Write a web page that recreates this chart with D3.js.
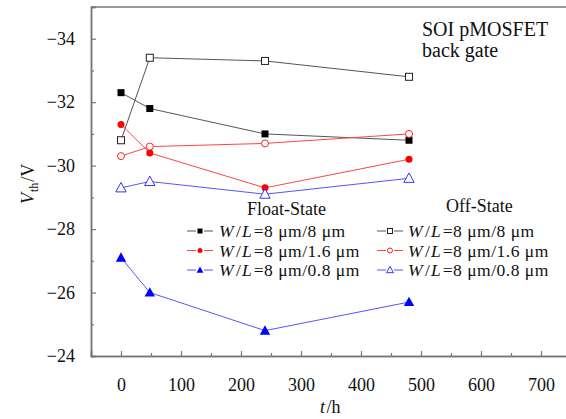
<!DOCTYPE html>
<html><head><meta charset="utf-8">
<script src="https://cdn.jsdelivr.net/npm/d3@7"></script>
<style>
body{margin:0;background:#fff;}
svg{display:block;}
</style></head>
<body><svg id="c" width="566" height="419"></svg>
<script>
const times = [0, 48, 240, 480];
const floatW8 = [-32.3, -31.8, -31.0, -30.8];
const floatW16 = [-31.3, -30.4, -29.3, -30.2];
const floatW08 = [-27.1, -26.0, -24.8, -25.7];
const offW8 = [-30.8, -33.4, -33.3, -32.8];
const offW16 = [-30.3, -30.6, -30.7, -31.0];
const offW08 = [-29.3, -29.5, -29.1, -29.6];
const xTicks = [0, 100, 200, 300, 400, 500, 600, 700];
const yTicks = [-34, -32, -30, -28, -26, -24];
const wlLabels = ["8 μm/8 μm", "8 μm/1.6 μm", "8 μm/0.8 μm"];

const FONT = "Liberation Serif";
const series = [
  {vals:floatW8, color:"#000", line:"#555", shape:"square", filled:true},
  {vals:floatW16, color:"#f00", line:"#f44", shape:"circle", filled:true},
  {vals:floatW08, color:"#00f", line:"#55f", shape:"triangle", filled:true},
  {vals:offW8, color:"#222", line:"#555", shape:"square", filled:false},
  {vals:offW16, color:"#f22", line:"#f44", shape:"circle", filled:false},
  {vals:offW08, color:"#33f", line:"#55f", shape:"triangle", filled:false}
];

const svg = d3.select("#c");
const x = d3.scaleLinear().domain([-50, 750]).range([91, 571]);
const y = d3.scaleLinear().domain([-24, -35]).range([356, 7]);
const axisColor = "#777";

svg.append("line").attr("x1",91).attr("x2",566).attr("y1",y(-35)).attr("y2",y(-35)).attr("stroke",axisColor).attr("stroke-width",1.5);

const gx = svg.append("g").attr("transform",`translate(0,${y(-24)})`);
gx.call(d3.axisBottom(x).tickValues(xTicks).tickSize(-5).tickPadding(22).tickFormat(d3.format("d")));
const gxm = svg.append("g").attr("transform",`translate(0,${y(-24)})`);
gxm.call(d3.axisBottom(x).tickValues(d3.range(50, 750, 100)).tickSize(-3).tickFormat(""));
const gy = svg.append("g").attr("transform",`translate(${x(-50)},0)`);
gy.call(d3.axisLeft(y).tickValues(yTicks).tickSize(-5).tickPadding(16).tickFormat(d => "−" + Math.abs(d)));
const gym = svg.append("g").attr("transform",`translate(${x(-50)},0)`);
gym.call(d3.axisLeft(y).tickValues([-35,-33,-31,-29,-27,-25]).tickSize(-3).tickFormat(""));
[gx,gxm,gy,gym].forEach(g=>{
  g.attr("font-family",FONT).attr("font-size",18);
  g.selectAll(".domain").attr("stroke",axisColor).attr("stroke-width",1.5);
  g.selectAll(".tick line").attr("stroke",axisColor).attr("stroke-width",1.2);
  g.selectAll(".tick text").attr("font-size",18).attr("font-family",FONT).attr("fill","#111");
});
gx.selectAll(".tick text").attr("dy","0.71em").attr("y",22);

function marker(g, s, cx, cy, size){
  const fill = s.filled ? s.color : "#fff";
  if(s.shape==="square"){
    g.append("rect").attr("x",cx-size/2).attr("y",cy-size/2).attr("width",size).attr("height",size)
      .attr("fill",fill).attr("stroke",s.color).attr("stroke-width",s.filled?0:1);
  } else if(s.shape==="circle"){
    g.append("circle").attr("cx",cx).attr("cy",cy).attr("r",size/2)
      .attr("fill",fill).attr("stroke",s.color).attr("stroke-width",s.filled?0:1);
  } else {
    const h = size, w = size*1.15;
    g.append("path").attr("d",`M${cx},${cy-h*0.6}L${cx+w/2},${cy+h*0.45}L${cx-w/2},${cy+h*0.45}Z`)
      .attr("fill",fill).attr("stroke",s.color).attr("stroke-width",s.filled?0:1);
  }
}

const line = d3.line().x(d=>x(d[0])).y(d=>y(d[1]));
series.forEach(s=>{
  const pts = times.map((t,i)=>[t,s.vals[i]]);
  svg.append("path").attr("d",line(pts)).attr("fill","none").attr("stroke",s.line).attr("stroke-width",1);
});
series.forEach(s=>{
  const g = svg.append("g");
  times.forEach((t,i)=>marker(g,s,x(t),y(s.vals[i]), s.shape==="triangle"?9:7));
});

function txt(parent, xp, yp, size){
  return parent.append("text").attr("x",xp).attr("y",yp).attr("font-size",size).attr("font-family",FONT).attr("fill","#111");
}
function rich(parent, xp, yp, pieces, gap){
  let cx = xp;
  pieces.forEach(p=>{
    const t = txt(parent, cx, yp + (p.dy||0), p.size).text(p.s);
    if(p.it) t.attr("font-style","italic");
    if(p.ls) t.attr("letter-spacing", p.ls);
    cx += t.node().getComputedTextLength() + (p.gap!==undefined ? p.gap : gap);
  });
  return cx;
}
txt(svg,422,36,20).text("SOI pMOSFET");
txt(svg,422,57,20).text("back gate");

const LS = 17.5;
function legend(title, tx, ty, mx0, mx1, textX, rows, list){
  txt(svg,tx,ty,18).text(title);
  list.forEach((s,i)=>{
    const cy = rows[i];
    svg.append("line").attr("x1",mx0).attr("x2",mx1).attr("y1",cy).attr("y2",cy).attr("stroke",s.line).attr("stroke-width",1).attr("stroke-dasharray",`${(mx1-mx0)/2-4},8`);
    marker(svg.append("g"),s,(mx0+mx1)/2,cy,s.shape==="triangle"?6:5);
    rich(svg, textX, cy+6, [
      {s:"W", it:true, size:LS, gap:2.5},
      {s:"/", size:LS, gap:1},
      {s:"L", it:true, size:LS, gap:2},
      {s:"=" + wlLabels[i], size:LS, ls:0.5}
    ], 0);
  });
}
legend("Float-State", 247, 215, 187, 213, 219, [231,250.5,270], series.slice(0,3));
legend("Off-State", 446, 212, 377, 403, 408, [231,250.5,270], series.slice(3,6));

rich(svg, 320, 413, [{s:"t", it:true, size:18, gap:1.5},{s:"/h", size:18}], 0);
const yg = svg.append("g").attr("transform","translate(34,204) rotate(-90)");
rich(yg, 0, 0, [{s:"V", it:true, size:18, gap:1},{s:"th", size:12, dy:4, gap:1},{s:"/V", size:18}], 0);
</script></body></html>
